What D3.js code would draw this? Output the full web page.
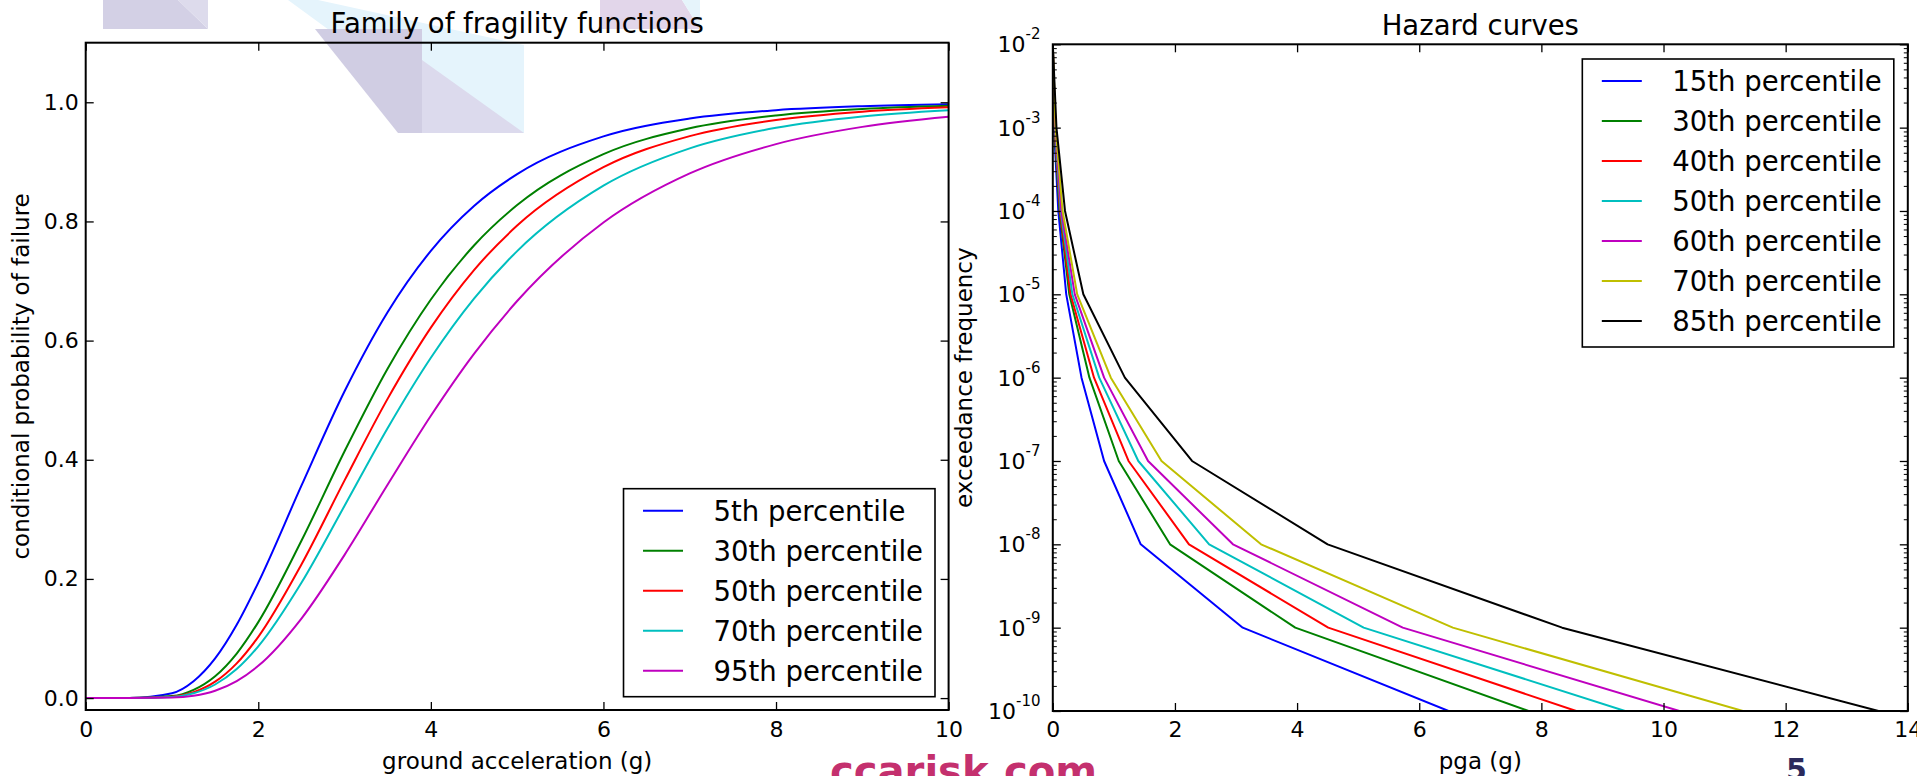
<!DOCTYPE html>
<html>
<head>
<meta charset="utf-8">
<script src="https://cdn.jsdelivr.net/npm/d3@7"></script>
<style>
  html, body { margin: 0; padding: 0; background: #fff; }
  svg { display: block; font-family: "DejaVu Sans", sans-serif; }
</style>
</head>
<body>
<svg width="1917" height="776"></svg>
<script>
(function (d3) {

  // Fragility functions
  // ------------------------------------------
  var fragX  = [0, 0.5, 1, 1.25, 1.5, 1.75, 2, 2.5, 3, 3.5, 4, 4.5, 5, 6, 7, 8, 9, 10];
  var frag5  = [0, 0.00004, 0.0081, 0.0282, 0.0665, 0.123, 0.1938, 0.3565, 0.5149, 0.648, 0.7507, 0.826, 0.8795, 0.9427, 0.9726, 0.9867, 0.9934, 0.9967];
  var frag30 = [0, 0.00001, 0.0033, 0.0137, 0.0366, 0.0747, 0.1275, 0.264, 0.4143, 0.5533, 0.669, 0.7596, 0.8275, 0.9129, 0.9563, 0.9779, 0.9887, 0.9941];
  var frag50 = [0, 0, 0.0022, 0.0098, 0.0275, 0.0583, 0.1028, 0.2242, 0.3654, 0.5026, 0.6217, 0.7183, 0.793, 0.891, 0.9432, 0.9703, 0.9843, 0.9916];
  var frag70 = [0, 0, 0.0019, 0.0081, 0.0228, 0.0487, 0.0868, 0.1935, 0.3228, 0.4533, 0.5712, 0.6704, 0.7502, 0.86, 0.9226, 0.9572, 0.9762, 0.9866];
  var frag95 = [0, 0, 0.0008, 0.004, 0.0124, 0.0285, 0.0541, 0.1335, 0.2404, 0.3585, 0.4738, 0.5777, 0.6664, 0.7982, 0.8806, 0.9298, 0.9587, 0.9756];
  var fragNames = ['5th percentile', '30th percentile', '50th percentile', '70th percentile', '95th percentile'];
  var fragXTicks = [0, 2, 4, 6, 8, 10];
  var fragYTicks = [0, 0.2, 0.4, 0.6, 0.8, 1.0];

  // Hazard curves: pga (g) reached at each exceedance frequency
  // -----------------------------------------------------------
  var hazFreq = [1e-2, 1e-3, 1e-4, 1e-5, 1e-6, 1e-7, 1e-8, 1e-9, 1e-10];
  var haz15 = [0, 0.02, 0.09, 0.22, 0.47, 0.84, 1.44, 3.11, 6.48];
  var haz30 = [0, 0.025, 0.11, 0.27, 0.60, 1.08, 1.92, 3.97, 7.79];
  var haz40 = [0, 0.03, 0.12, 0.29, 0.675, 1.24, 2.23, 4.51, 8.57];
  var haz50 = [0, 0.035, 0.13, 0.32, 0.76, 1.40, 2.56, 5.09, 9.37];
  var haz60 = [0, 0.04, 0.14, 0.36, 0.84, 1.56, 2.95, 5.73, 10.26];
  var haz70 = [0, 0.045, 0.16, 0.40, 0.95, 1.78, 3.41, 6.55, 11.30];
  var haz85 = [0, 0.06, 0.20, 0.50, 1.18, 2.28, 4.50, 8.34, 13.52];
  var hazNames = ['15th percentile', '30th percentile', '40th percentile', '50th percentile',
                  '60th percentile', '70th percentile', '85th percentile'];
  var hazXTicks = [0, 2, 4, 6, 8, 10, 12, 14];
  var hazYExp = [-10, -9, -8, -7, -6, -5, -4, -3, -2];

  // matplotlib classic colour cycle
  var fragColors = ['#0000ff', '#008000', '#ff0000', '#00bfbf', '#bf00bf'];
  var hazColors = ['#0000ff', '#008000', '#ff0000', '#00bfbf', '#bf00bf', '#bfbf00', '#000000'];

  var svg = d3.select('svg');
  var FONT = '"DejaVu Sans", sans-serif';

  // slide watermark
  // ---------------
  var deco = svg.append('g');
  [
    { p: [[103, 0], [178, 0], [208, 29], [103, 29]], c: '#d3d0e5' },
    { p: [[178, 0], [208, 0], [208, 29]], c: '#dddbec' },
    { p: [[288, 0], [318, 0], [524, 45], [524, 133], [470, 133]], c: '#e5f4fc' },
    { p: [[315, 29], [422, 29], [422, 133], [398, 133]], c: '#d0cde3' },
    { p: [[422, 60], [524, 133], [422, 133]], c: '#dcdaed' },
    { p: [[600, 0], [682, 0], [700, 29], [600, 29]], c: '#e2d6ea' },
    { p: [[682, 0], [700, 0], [700, 29]], c: '#e6f4fb' }
  ].forEach(function (s) {
    deco.append('polygon')
      .attr('points', s.p.map(function (q) { return q.join(','); }).join(' '))
      .attr('fill', s.c);
  });

  deco.append('text')
    .attr('x', 830).attr('y', 785)
    .attr('font-family', FONT).attr('font-weight', 'bold')
    .attr('font-size', 40).attr('fill', '#c4306e')
    .attr('textLength', 267).attr('lengthAdjust', 'spacingAndGlyphs')
    .text('ccarisk.com');
  deco.append('text')
    .attr('x', 1786).attr('y', 780)
    .attr('font-family', FONT).attr('font-weight', 'bold')
    .attr('font-size', 30).attr('fill', '#2b2a5c')
    .text('5');

  // scales
  // ------
  var fx = d3.scaleLinear().domain([0, 10]).range([85.7, 948.6]);
  var fy = d3.scaleLinear().domain([-0.02, 1.1]).range([710, 42.7]);
  var hx = d3.scaleLinear().domain([0, 14]).range([1052.8, 1907.8]);
  var hy = d3.scaleLog().domain([1e-10, 1e-2]).range([711, 44.3]);

  function clip(id, xs, ys) {
    svg.append('clipPath').attr('id', id).append('rect')
      .attr('x', xs.range()[0]).attr('y', ys.range()[1])
      .attr('width', xs.range()[1] - xs.range()[0])
      .attr('height', ys.range()[0] - ys.range()[1]);
  }
  clip('clipL', fx, fy);
  clip('clipR', hx, hy);

  function styleAxis(g, w) {
    g.attr('font-size', 22).attr('font-family', FONT);
    g.select('.domain').remove();
    g.selectAll('.tick line').attr('stroke', '#000').attr('stroke-width', w || 1.3);
    g.selectAll('.tick text').attr('fill', '#000');
  }

  function frame(xs, ys) {
    svg.append('rect')
      .attr('x', xs.range()[0]).attr('y', ys.range()[1])
      .attr('width', xs.range()[1] - xs.range()[0])
      .attr('height', ys.range()[0] - ys.range()[1])
      .attr('fill', 'none').attr('stroke', '#000').attr('stroke-width', 2);
  }

  // Left panel: fragility functions
  // -------------------------------
  var fragCurves = [frag5, frag30, frag50, frag70, frag95];
  var fragLine = d3.line()
    .x(function (d) { return fx(d[0]); })
    .y(function (d) { return fy(d[1]); })
    .curve(d3.curveMonotoneX);

  var gL = svg.append('g').attr('clip-path', 'url(#clipL)');
  fragCurves.forEach(function (vals, i) {
    gL.append('path')
      .datum(fragX.map(function (x, j) { return [x, vals[j]]; }))
      .attr('d', fragLine)
      .attr('fill', 'none')
      .attr('stroke', fragColors[i])
      .attr('stroke-width', 2)
      .attr('stroke-linejoin', 'round');
  });

  svg.append('g').attr('transform', 'translate(0,710)')
    .call(d3.axisBottom(fx).tickValues(fragXTicks).tickSizeInner(-8).tickSizeOuter(0)
      .tickPadding(11).tickFormat(d3.format('d')))
    .call(styleAxis);
  svg.append('g').attr('transform', 'translate(0,42.7)')
    .call(d3.axisTop(fx).tickValues(fragXTicks).tickSizeInner(-8).tickSizeOuter(0).tickFormat(''))
    .call(styleAxis);
  svg.append('g').attr('transform', 'translate(85.7,0)')
    .call(d3.axisLeft(fy).tickValues(fragYTicks).tickSizeInner(-8).tickSizeOuter(0)
      .tickPadding(7).tickFormat(d3.format('.1f')))
    .call(styleAxis);
  svg.append('g').attr('transform', 'translate(948.6,0)')
    .call(d3.axisRight(fy).tickValues(fragYTicks).tickSizeInner(-8).tickSizeOuter(0).tickFormat(''))
    .call(styleAxis);
  frame(fx, fy);

  // Right panel: hazard curves
  // --------------------------
  var hazCurves = [haz15, haz30, haz40, haz50, haz60, haz70, haz85];
  var hazLine = d3.line()
    .x(function (d) { return hx(d[0]); })
    .y(function (d) { return hy(d[1]); });

  var gR = svg.append('g').attr('clip-path', 'url(#clipR)');
  hazCurves.forEach(function (vals, i) {
    gR.append('path')
      .datum(vals.map(function (x, j) { return [x, hazFreq[j]]; }))
      .attr('d', hazLine)
      .attr('fill', 'none')
      .attr('stroke', hazColors[i])
      .attr('stroke-width', 2)
      .attr('stroke-linejoin', 'round');
  });

  var majors = hazYExp.map(function (e) { return Math.pow(10, e); });
  var minors = hy.ticks().filter(function (d) {
    var l = Math.log10(d);
    return Math.abs(l - Math.round(l)) > 1e-6;
  });

  svg.append('g').attr('transform', 'translate(0,711)')
    .call(d3.axisBottom(hx).tickValues(hazXTicks).tickSizeInner(-8).tickSizeOuter(0)
      .tickPadding(10).tickFormat(d3.format('d')))
    .call(styleAxis);
  svg.append('g').attr('transform', 'translate(0,44.3)')
    .call(d3.axisTop(hx).tickValues(hazXTicks).tickSizeInner(-8).tickSizeOuter(0).tickFormat(''))
    .call(styleAxis);
  [[d3.axisLeft, 1052.8], [d3.axisRight, 1907.8]].forEach(function (a) {
    svg.append('g').attr('transform', 'translate(' + a[1] + ',0)')
      .call(a[0](hy).tickValues(majors).tickSizeInner(-8).tickSizeOuter(0).tickFormat(''))
      .call(styleAxis);
    svg.append('g').attr('transform', 'translate(' + a[1] + ',0)')
      .call(a[0](hy).tickValues(minors).tickSizeInner(-4).tickSizeOuter(0).tickFormat(''))
      .call(styleAxis, 1);
  });

  // 10^n labels
  var yl = svg.append('g').attr('font-family', FONT).attr('fill', '#000');
  hazYExp.forEach(function (e) {
    var t = yl.append('text')
      .attr('x', 1040.5)
      .attr('y', hy(Math.pow(10, e)) + 8)
      .attr('text-anchor', 'end');
    t.append('tspan').attr('font-size', 22).text('10');
    t.append('tspan').attr('font-size', 15).attr('dy', -13).text(String(e));
  });
  frame(hx, hy);

  // titles and axis labels
  // ----------------------
  function label(x, y, txt, size, rot) {
    svg.append('text')
      .attr('transform', 'translate(' + x + ',' + y + ')' + (rot ? ' rotate(-90)' : ''))
      .attr('text-anchor', 'middle')
      .attr('font-family', FONT)
      .attr('font-size', size)
      .attr('fill', '#000')
      .text(txt);
  }
  label(517.2, 33.3, 'Family of fragility functions', 27.5);
  label(1480.3, 35, 'Hazard curves', 27.5);
  label(517.2, 768.5, 'ground acceleration (g)', 23);
  label(1480.3, 768.5, 'pga (g)', 23);
  label(28.5, 376.4, 'conditional probability of failure', 23, true);
  label(972, 377.7, 'exceedance frequency', 23, true);

  // legends
  // -------
  function legend(right, top, names, colors) {
    var g = svg.append('g');
    var box = g.append('rect');
    var texts = names.map(function (n, i) {
      return g.append('text')
        .attr('y', top + 22 + i * 40 + 10)
        .attr('font-family', FONT)
        .attr('font-size', 27.5)
        .attr('fill', '#000')
        .text(n);
    });
    var w = d3.max(texts, function (t) { return t.node().getComputedTextLength(); });
    var tx = right - 12 - w;
    var left = tx - 90;
    texts.forEach(function (t, i) {
      t.attr('x', tx);
      g.append('line')
        .attr('x1', left + 19.5).attr('x2', left + 59.5)
        .attr('y1', top + 22 + i * 40).attr('y2', top + 22 + i * 40)
        .attr('stroke', colors[i]).attr('stroke-width', 2);
    });
    box.attr('x', left).attr('y', top)
      .attr('width', right - left)
      .attr('height', (names.length - 1) * 40 + 48)
      .attr('fill', '#fff').attr('stroke', '#000').attr('stroke-width', 1.6);
  }
  legend(935, 696.7 - (fragNames.length - 1) * 40 - 48, fragNames, fragColors);
  legend(1893.8, 59, hazNames, hazColors);

})(d3);
</script>
</body>
</html>
